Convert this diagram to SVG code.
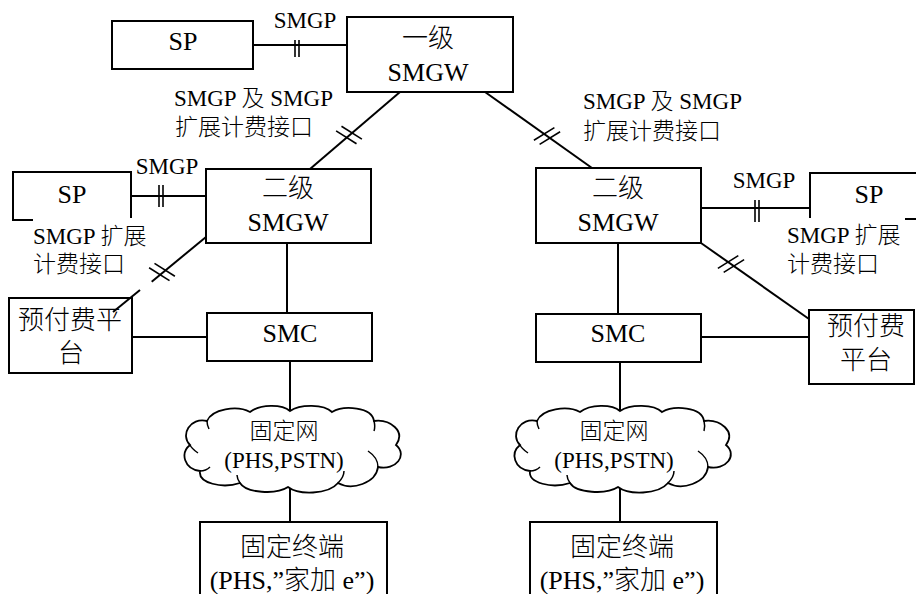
<svg xmlns="http://www.w3.org/2000/svg" width="916" height="594" viewBox="0 0 916 594">
<defs>
<style>
.b{fill:#fff;stroke:#000;stroke-width:2}
.o{fill:none;stroke:#000;stroke-width:2}
.l{fill:none;stroke:#000;stroke-width:2}
.t{stroke:#000;stroke-width:1.6}
text{font-family:'Liberation Serif',serif;fill:#000}
.c{font-family:'Noto Sans CJK SC',sans-serif;font-weight:300}
.big{font-size:26px;text-anchor:middle}
.sm{font-size:23px}
.mid{text-anchor:middle}
.cl{fill:#fff;stroke:#000;stroke-width:1.8}
.ci{fill:none;stroke:#000;stroke-width:1.5}
</style>
<g id="cloudShape">
<path class="cl" d="M 8,40 C -2,30 8,12 25,16 C 30,4 55,0 68,7 C 78,-1 100,-1 108,6 C 118,-1 142,-1 150,7 C 162,0 190,2 192,16 C 208,14 224,26 214,40 C 226,50 214,66 196,62 C 194,78 170,86 156,78 C 146,90 116,90 106,82 C 94,90 64,88 58,78 C 40,84 16,78 18,66 C 2,64 -2,48 8,40 Z"/>
<path class="ci" d="M 18,66 C 22,66 26,64 28,62 M 58,78 C 56,75 55,73 55,70 M 156,78 C 160,74 162,70 162,66 M 196,62 C 196,56 192,50 186,46 M 192,16 C 193,20 193,23 192,26 M 25,16 C 25,19 26,22 27,24 M 8,40 C 10,44 13,46 16,48"/>
</g>
</defs>

<g id="connectors">
<line class="l" x1="253" y1="45" x2="347" y2="45"/>
<line class="t" x1="295" y1="40" x2="295" y2="57"/>
<line class="t" x1="299" y1="40" x2="299" y2="57"/>
<line class="l" x1="400" y1="92" x2="310" y2="169"/>
<line class="t" x1="341.5" y1="126.3" x2="361.9" y2="139.1"/>
<line class="t" x1="336.1" y1="130.9" x2="356.5" y2="143.7"/>
<line class="l" x1="485" y1="92" x2="592" y2="168"/>
<line class="t" x1="533.9" y1="140.3" x2="554.4" y2="127.6"/>
<line class="t" x1="539.6" y1="144.4" x2="560.1" y2="131.7"/>
<line class="l" x1="131" y1="196" x2="206" y2="196"/>
<line class="t" x1="159" y1="185" x2="159" y2="207"/>
<line class="t" x1="163" y1="185" x2="163" y2="207"/>
<line class="l" x1="206" y1="237" x2="151.7" y2="281.7"/>
<line class="l" x1="140" y1="290" x2="113" y2="312"/>
<line class="t" x1="154.5" y1="263.4" x2="174.9" y2="276.2"/>
<line class="t" x1="149.1" y1="267.8" x2="169.5" y2="280.6"/>
<line class="l" x1="287" y1="243" x2="287" y2="313"/>
<line class="l" x1="132" y1="337" x2="207" y2="337"/>
<line class="l" x1="290" y1="361" x2="290" y2="412"/>
<line class="l" x1="290" y1="488" x2="290" y2="522"/>
<line class="l" x1="701" y1="208" x2="810" y2="208"/>
<line class="t" x1="755" y1="200" x2="755" y2="222"/>
<line class="t" x1="759" y1="200" x2="759" y2="222"/>
<line class="l" x1="701" y1="243" x2="809" y2="319"/>
<line class="t" x1="717.9" y1="268.4" x2="738.3" y2="255.6"/>
<line class="t" x1="723.7" y1="272.4" x2="744.1" y2="259.6"/>
<line class="l" x1="618" y1="243" x2="618" y2="314"/>
<line class="l" x1="701" y1="337" x2="809" y2="337"/>
<line class="l" x1="620" y1="362" x2="620" y2="412"/>
<line class="l" x1="620" y1="488" x2="620" y2="522"/>
</g>

<g id="sp-top">
<rect class="b" x="112" y="21" width="141" height="48"/>
<text class="big" x="183" y="50">SP</text>
</g>
<text class="sm mid" x="305" y="28">SMGP</text>

<g id="smgw1">
<rect class="b" x="347" y="17" width="166" height="75"/>
<text class="big c" x="428" y="47">一级</text>
<text class="big" x="428" y="81">SMGW</text>
</g>

<text class="sm" x="174" y="106">SMGP <tspan class="c">及</tspan> SMGP</text>
<text class="sm c" x="175" y="135">扩展计费接口</text>
<text class="sm" x="583" y="109">SMGP <tspan class="c">及</tspan> SMGP</text>
<text class="sm c" x="583" y="139">扩展计费接口</text>

<g id="sp-left">
<path class="o" d="M 33,220 H 13 V 172 H 131 V 218"/>
<text class="big" x="72" y="203">SP</text>
</g>
<text class="sm mid" x="167" y="174">SMGP</text>
<text class="sm" x="33" y="244">SMGP <tspan class="c">扩展</tspan></text>
<text class="sm c" x="33" y="272">计费接口</text>

<g id="smgw2-left">
<rect class="b" x="206" y="169" width="165" height="74"/>
<text class="big c" x="288" y="197">二级</text>
<text class="big" x="288" y="231">SMGW</text>
</g>

<g id="prepaid-left">
<rect class="o" x="9" y="298" width="123" height="75"/>
<text class="big c" x="70" y="329">预付费平</text>
<text class="big c" x="71" y="362">台</text>
</g>

<g id="smc-left">
<rect class="b" x="207" y="313" width="165" height="48"/>
<text class="big" x="290" y="342">SMC</text>
</g>

<g id="cloud-left">
<use href="#cloudShape" transform="translate(182,405)"/>
<text class="sm mid c" x="284" y="439">固定网</text>
<text class="sm mid" x="284" y="468">(PHS,PSTN)</text>
</g>

<g id="term-left">
<rect class="b" x="200" y="522" width="187" height="80"/>
<text class="big c" x="292" y="556">固定终端</text>
<text class="big" x="292" y="589">(PHS,”<tspan class="c">家加</tspan> e”)</text>
</g>

<g id="smgw2-right">
<rect class="b" x="536" y="168" width="165" height="75"/>
<text class="big c" x="618" y="197">二级</text>
<text class="big" x="618" y="231">SMGW</text>
</g>

<g id="sp-right">
<path class="o" d="M 810,218 V 173 H 918 M 905,219 H 918"/>
<text class="big" x="869" y="203">SP</text>
</g>
<text class="sm mid" x="764" y="188">SMGP</text>
<text class="sm" x="787" y="243">SMGP <tspan class="c">扩展</tspan></text>
<text class="sm c" x="787" y="272">计费接口</text>

<g id="prepaid-right">
<rect class="b" x="809" y="310" width="105" height="74"/>
<text class="big c" x="866" y="335">预付费</text>
<text class="big c" x="866" y="369">平台</text>
</g>

<g id="smc-right">
<rect class="b" x="536" y="314" width="165" height="48"/>
<text class="big" x="618" y="342">SMC</text>
</g>

<g id="cloud-right">
<use href="#cloudShape" transform="translate(512,405)"/>
<text class="sm mid c" x="614" y="439">固定网</text>
<text class="sm mid" x="614" y="468">(PHS,PSTN)</text>
</g>

<g id="term-right">
<rect class="b" x="530" y="522" width="187" height="80"/>
<text class="big c" x="622" y="556">固定终端</text>
<text class="big" x="622" y="589">(PHS,”<tspan class="c">家加</tspan> e”)</text>
</g>
</svg>
